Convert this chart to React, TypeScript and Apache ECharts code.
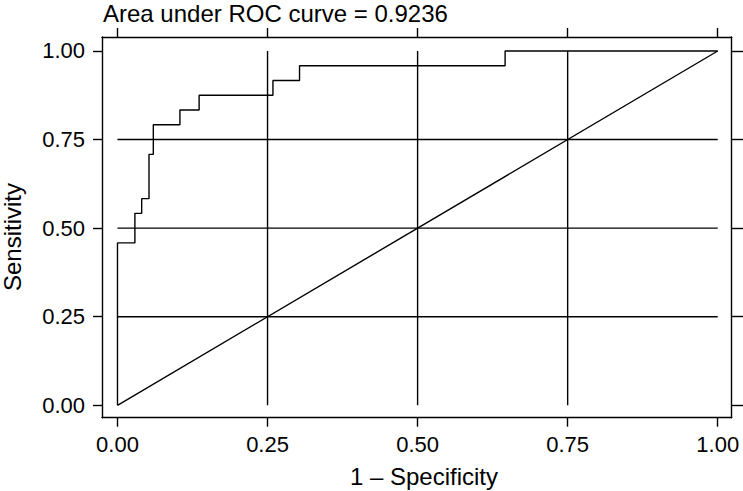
import React, { useEffect, useRef } from "react";
import * as echarts from "echarts";

// ROC curve points (1 - specificity, sensitivity)
const rocFpr = [0, 0, 0.029, 0.029, 0.0403, 0.0403, 0.0525, 0.0525, 0.0597, 0.0597, 0.104, 0.104, 0.136, 0.136, 0.259, 0.259, 0.3033, 0.3033, 0.6458, 0.6458, 1.0];
const rocTpr = [0, 0.4583, 0.4583, 0.5417, 0.5417, 0.5833, 0.5833, 0.7083, 0.7083, 0.7917, 0.7917, 0.8333, 0.8333, 0.875, 0.875, 0.9167, 0.9167, 0.9583, 0.9583, 1.0, 1.0];
const refLineX = [0, 1];
const refLineY = [0, 1];
const xTicks = [0, 0.25, 0.5, 0.75, 1];
const yTicks = [0, 0.25, 0.5, 0.75, 1];
const gridValues = [0.25, 0.5, 0.75];
const titleText = "Area under ROC curve = 0.9236";
const xTitle = "1 \u2013 Specificity";
const yTitle = "Sensitivity";

const FONT = "'Liberation Sans', Arial, Helvetica, sans-serif";
const BLACK = "#000";
const LW = 1.4;

export default function App() {
  const ref = useRef<HTMLDivElement>(null);
  useEffect(() => {
    if (!ref.current) return;
    const chart = echarts.init(ref.current, undefined, { renderer: "svg" });
    const fmt = (v: number) => v.toFixed(2);
    const lineStyle = { color: BLACK, width: LW };
    const xRange = { min: -0.0258, max: 1.0233 };
    const yRange = { min: -0.035, max: 1.0395 };
    const gridSeries: any[] = [];
    gridValues.forEach((v) => {
      gridSeries.push({
        type: "line",
        data: [[v, 0], [v, 1]],
        showSymbol: false,
        silent: true,
        lineStyle: { ...lineStyle },
      });
      gridSeries.push({
        type: "line",
        data: [[0, v], [1, v]],
        showSymbol: false,
        silent: true,
        lineStyle: { ...lineStyle },
      });
    });
    chart.setOption({
      animation: false,
      backgroundColor: "#fff",
      title: {
        text: titleText,
        left: 103,
        top: 4.5,
        padding: 0,
        textStyle: { fontFamily: FONT, fontSize: 24, lineHeight: 18, fontWeight: "normal", color: BLACK },
      },
      grid: { left: 102, right: 11.3, top: 37, bottom: 73.3, containLabel: false },
      xAxis: [
        {
          type: "value",
          position: "bottom",
          ...xRange,
          axisLine: { show: true, onZero: false, lineStyle },
          axisTick: { show: true, inside: false, length: 9, customValues: xTicks, lineStyle },
          axisLabel: {
            show: true,
            customValues: xTicks,
            formatter: fmt,
            fontFamily: FONT,
            fontSize: 22,
            color: BLACK,
            margin: 16,
          },
          splitLine: { show: false },
        },
        {
          type: "value",
          position: "top",
          ...xRange,
          axisLine: { show: true, onZero: false, lineStyle },
          axisTick: { show: true, inside: false, length: 9, customValues: xTicks, lineStyle },
          axisLabel: { show: false },
          splitLine: { show: false },
        },
      ],
      yAxis: [
        {
          type: "value",
          position: "left",
          ...yRange,
          axisLine: { show: true, onZero: false, lineStyle },
          axisTick: { show: true, inside: false, length: 9, customValues: yTicks, lineStyle },
          axisLabel: {
            show: true,
            customValues: yTicks,
            formatter: fmt,
            fontFamily: FONT,
            fontSize: 22,
            color: BLACK,
            margin: 17,
            padding: [4, 0, 0, 0],
          },
          splitLine: { show: false },
        },
        {
          type: "value",
          position: "right",
          ...yRange,
          axisLine: { show: true, onZero: false, lineStyle },
          axisTick: { show: true, inside: false, length: 12, customValues: yTicks, lineStyle },
          axisLabel: { show: false },
          splitLine: { show: false },
        },
      ],
      graphic: [
        {
          type: "text",
          x: 424,
          y: 476,
          style: {
            text: xTitle,
            font: `24px ${FONT}`,
            lineHeight: 20,
            fill: BLACK,
            align: "center",
            verticalAlign: "middle",
          },
        },
        {
          type: "text",
          x: 12,
          y: 237,
          rotation: Math.PI / 2,
          style: {
            text: yTitle,
            font: `24px ${FONT}`,
            lineHeight: 20,
            fill: BLACK,
            align: "center",
            verticalAlign: "middle",
          },
        },
      ],
      series: [
        ...gridSeries,
        {
          type: "line",
          name: "Reference",
          data: refLineX.map((x, i) => [x, refLineY[i]]),
          showSymbol: false,
          lineStyle: { ...lineStyle },
        },
        {
          type: "line",
          name: "ROC",
          data: rocFpr.map((x, i) => [x, rocTpr[i]]),
          showSymbol: false,
          lineStyle: { ...lineStyle },
        },
      ],
    });
    return () => chart.dispose();
  }, []);
  return (
    <div
      ref={ref}
      style={{ position: "fixed", left: 0, top: 0, width: 743, height: 491, background: "#fff" }}
    />
  );
}
